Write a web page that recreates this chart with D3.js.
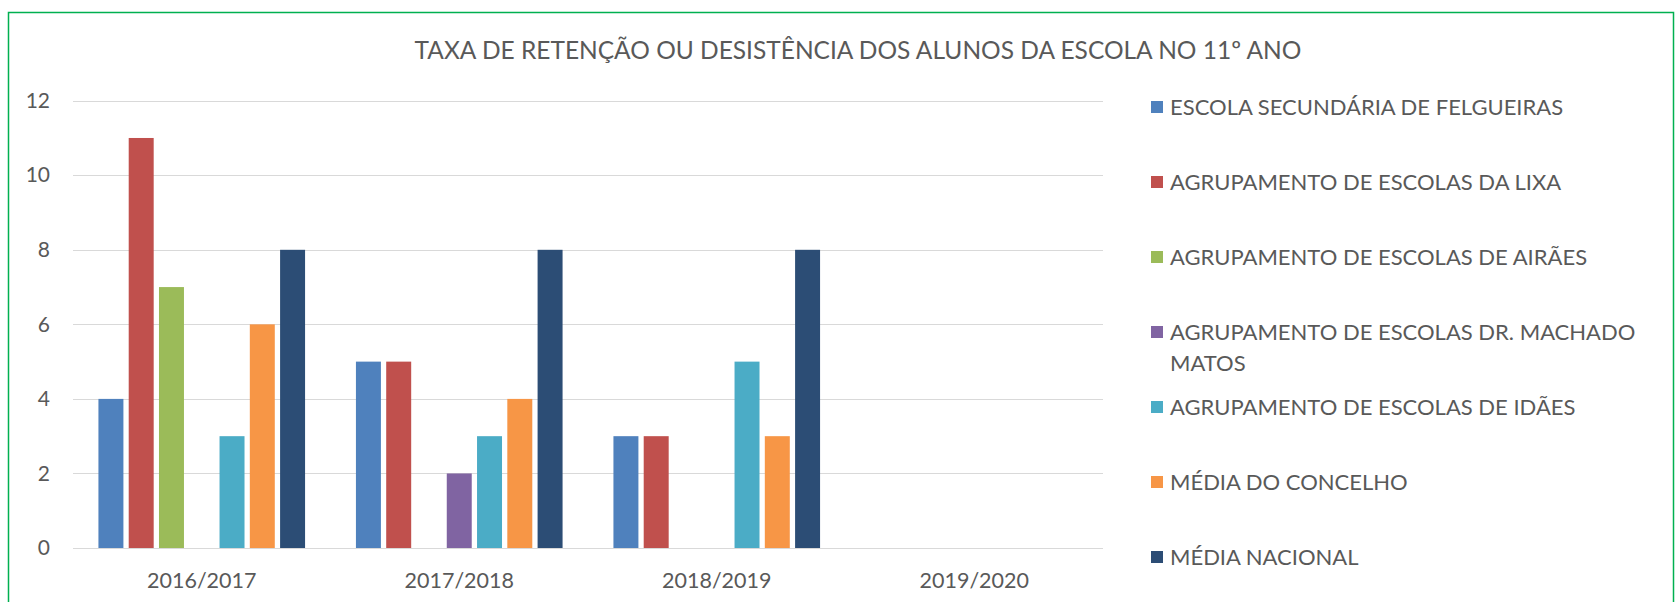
<!DOCTYPE html>
<html>
<head>
<meta charset="utf-8">
<title>Taxa de retenção</title>
<script src="https://cdnjs.cloudflare.com/ajax/libs/d3/7.8.5/d3.min.js"></script>
<style>
	body{ margin:0; background:#fff; }
	text{ font-family: Lato, "Open Sans", sans-serif; fill:#595959; }
</style>
</head>
<body>
<div id="chart"></div>
<script>
// data
var anos = ['2016/2017','2017/2018','2018/2019','2019/2020'];
var escolas = [
	'ESCOLA SECUNDÁRIA DE FELGUEIRAS',
	'AGRUPAMENTO DE ESCOLAS DA LIXA',
	'AGRUPAMENTO DE ESCOLAS DE AIRÃES',
	'AGRUPAMENTO DE ESCOLAS DR. MACHADO MATOS',
	'AGRUPAMENTO DE ESCOLAS DE IDÃES',
	'MÉDIA DO CONCELHO',
	'MÉDIA NACIONAL'
];
var felgueiras = [4, 5, 3, null];
var lixa       = [11, 5, 3, null];
var airaes     = [7, null, null, null];
var machado    = [null, 2, null, null];
var idaes      = [3, 3, 5, null];
var concelho   = [6, 4, 3, null];
var nacional   = [8, 8, 8, null];
var yTicks = [0, 2, 4, 6, 8, 10, 12];
var cores = ['#4F81BD','#C0504D','#9BBB59','#8064A2','#4BACC6','#F79646','#2C4D75'];

var series = [felgueiras, lixa, airaes, machado, idaes, concelho, nacional];

var w = 1679, h = 602;
var svg = d3.select('#chart').append('svg')
	.attr('width', w).attr('height', h);

// green frame round the chart
svg.append('rect')
	.attr('x', 8.5).attr('y', 12.5)
	.attr('width', 1665).attr('height', 620)
	.attr('fill', 'none')
	.attr('stroke', '#00B050')
	.attr('stroke-width', 1.5);

svg.append('text')
	.attr('x', 858).attr('y', 59)
	.attr('text-anchor', 'middle')
	.attr('font-size', '24.5px')
	.text('TAXA DE RETENÇÃO OU DESISTÊNCIA DOS ALUNOS DA ESCOLA NO 11º ANO');

var x0 = d3.scaleBand().domain(anos).range([73, 1103]);
var x1 = d3.scaleBand().domain(d3.range(escolas.length))
	.range([0, x0.bandwidth()])
	.paddingInner(0.175).paddingOuter(0.84);
var y = d3.scaleLinear().domain([0, 12]).range([548, 100.7]);

// gridlines
svg.append('g').selectAll('line')
	.data(yTicks).enter().append('line')
	.attr('x1', 73).attr('x2', 1103)
	.attr('y1', function(d){ return Math.round(y(d)) + 0.5; })
	.attr('y2', function(d){ return Math.round(y(d)) + 0.5; })
	.attr('stroke', '#D9D9D9').attr('stroke-width', 1);

var yAxis = svg.append('g')
	.attr('transform', 'translate(73,0)')
	.call(d3.axisLeft(y).tickValues(yTicks).tickSize(0).tickPadding(23));
yAxis.select('.domain').remove();
yAxis.selectAll('text').attr('font-size', '21px').attr('fill', '#595959')
	.attr('font-family', 'Lato, sans-serif');

var xAxis = svg.append('g')
	.attr('transform', 'translate(0,548)')
	.call(d3.axisBottom(x0).tickSize(0).tickPadding(25));
xAxis.select('.domain').remove();
xAxis.selectAll('text').attr('font-size', '21.5px').attr('fill', '#595959')
	.attr('font-family', 'Lato, sans-serif');

// bars, one group per school year
var grupos = svg.append('g').selectAll('g')
	.data(anos).enter().append('g')
	.attr('transform', function(d){ return 'translate(' + x0(d) + ',0)'; });

grupos.selectAll('rect')
	.data(function(d, i){
		return series.map(function(s, k){ return {k: k, v: s[i]}; })
			.filter(function(b){ return b.v != null; });
	})
	.enter().append('rect')
	.attr('x', function(d){ return x1(d.k); })
	.attr('width', x1.bandwidth())
	.attr('y', function(d){ return y(d.v); })
	.attr('height', function(d){ return y(0) - y(d.v); })
	.attr('fill', function(d){ return cores[d.k]; });

// legend
var legenda = svg.append('g').selectAll('g')
	.data(escolas).enter().append('g')
	.attr('transform', function(d, i){ return 'translate(1151,' + (107 + i * 75) + ')'; });

legenda.append('rect')
	.attr('x', 0).attr('y', -6)
	.attr('width', 12).attr('height', 12)
	.attr('fill', function(d, i){ return cores[i]; });

legenda.append('text')
	.attr('x', 19).attr('y', 8)
	.attr('font-size', '22px')
	.each(function(d){
		var t = d3.select(this);
		if (d.length > 36) {
			var cut = d.lastIndexOf(' ');
			t.append('tspan').attr('x', 19).text(d.slice(0, cut));
			t.append('tspan').attr('x', 19).attr('dy', 31).text(d.slice(cut + 1));
		} else {
			t.text(d);
		}
	});
</script>
</body>
</html>
